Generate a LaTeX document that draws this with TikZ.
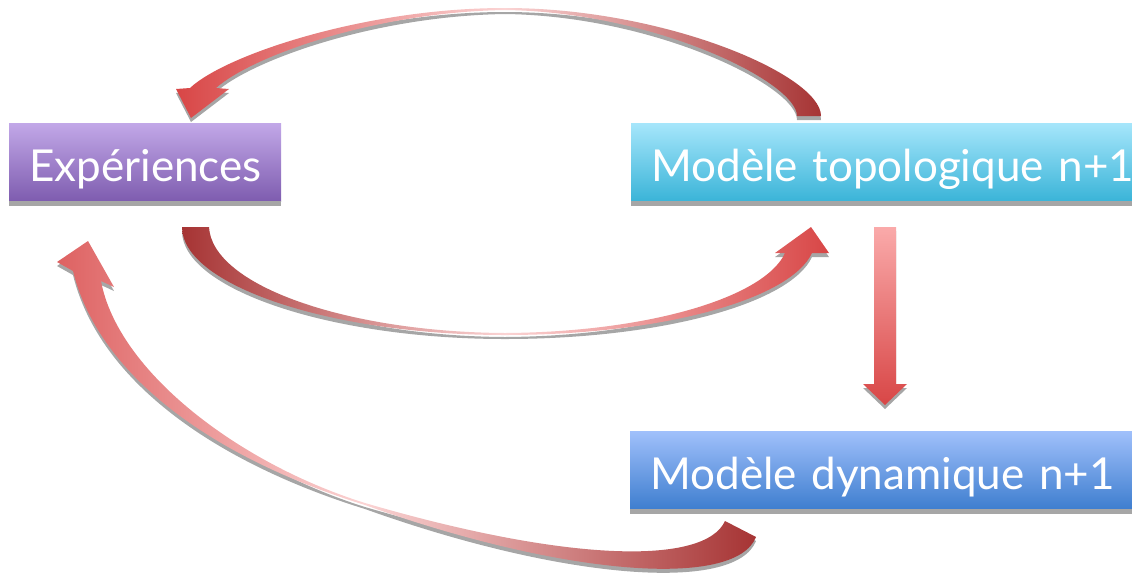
\documentclass[tikz,border=0pt]{standalone}
\usepackage{fontspec}
\setmainfont{Lato}
\usetikzlibrary{positioning}
\definecolor{expTop}{HTML}{C2A8E8}
\definecolor{expBot}{HTML}{7E5CAF}
\definecolor{topoTop}{HTML}{A6E6FB}
\definecolor{topoBot}{HTML}{3AB4D8}
\definecolor{dynTop}{HTML}{A0C0FB}
\definecolor{dynBot}{HTML}{3E7ECF}
\definecolor{shadowgrey}{HTML}{A6A6A6}
\definecolor{tailred}{HTML}{A63434}
\definecolor{midred}{HTML}{C45E5E}
\definecolor{waistpink}{HTML}{FBD4D4}
\definecolor{bodypink}{HTML}{F08C8C}
\definecolor{headred}{HTML}{D84646}
\definecolor{shaftpink}{HTML}{FAAAAA}

% arrow outlines (pixel coordinates, y downwards)
\newcommand{\pathTopTail}{(505,8) .. controls (665,8) and (821,75) .. (821,116)
  -- (797,116) .. controls (797,82) and (655,12) .. (505,10) -- cycle}
\newcommand{\pathTopHead}{(505,8) .. controls (365,8) and (225,55) .. (190,88)
  -- (176,89) -- (191,118) -- (229,89) -- (216,88)
  .. controls (252,56) and (375,12) .. (505,10) -- cycle}
\newcommand{\pathMidTail}{(182,227) .. controls (182,285) and (330,335) .. (505,335)
  -- (505,333) .. controls (345,332) and (212,285) .. (209,227) -- cycle}
\newcommand{\pathMidHead}{(505,335) .. controls (660,335) and (790,300) .. (812,253)
  -- (829,253) -- (811,227) -- (775,253) -- (785,253)
  .. controls (765,297) and (650,332) .. (505,333) -- cycle}
\newcommand{\pathLowTail}{(756,537) .. controls (735,590) and (560,575) .. (365,505)
  -- (365,503) .. controls (570,563) and (705,565) .. (725,521) -- cycle}
\newcommand{\pathLowHead}{(365,505) .. controls (220,460) and (100,380) .. (73,271)
  -- (57,262) -- (88,241) -- (114,287) -- (101,281)
  .. controls (118,372) and (240,464) .. (365,503) -- cycle}
\newcommand{\pathDown}{(874,227) -- (896,227) -- (896,384) -- (907,384)
  -- (885,405) -- (863,384) -- (874,384) -- cycle}

\begin{document}
\begin{tikzpicture}[
  x=1pt, y=-1pt,
  box/.style={anchor=north west, minimum height=78pt, inner xsep=20pt,
              inner ysep=0pt, align=left, text=white,
              font=\fontsize{44}{50}\selectfont,
              text height=38pt, text depth=0pt},
  expbox/.style={box, top color=expTop, bottom color=expBot},
  topobox/.style={box, top color=topoTop, bottom color=topoBot},
  dynbox/.style={box, top color=dynTop, bottom color=dynBot},
  boxshadow/.style={fill=shadowgrey},
  arrowshadow/.style={fill=shadowgrey, shift={(0,4)}},
]
\useasboundingbox (0,0) rectangle (1132,582);

% ---------------- Boxes ----------------
\node[expbox, text width=232pt] (exp) at (9,123) {Expériences};
\node[topobox, text width=500pt] (topo) at (631,123) {Modèle topologique n+1};
\node[dynbox, text width=500pt] (dyn) at (630,431) {Modèle dynamique n+1};

\fill[boxshadow] (exp.south west) rectangle ([yshift=-5pt]exp.south east);
\fill[boxshadow] (topo.south west) rectangle ([yshift=-5pt]topo.south east);
\fill[boxshadow] (dyn.south west) rectangle ([yshift=-5pt]dyn.south east);

% ---------------- Shadows of the arrows ----------------
\fill[arrowshadow] \pathTopTail;
\fill[arrowshadow] \pathTopHead;
\fill[arrowshadow] \pathMidTail;
\fill[arrowshadow] \pathMidHead;
\fill[arrowshadow] \pathLowTail;
\fill[arrowshadow] \pathLowHead;
\fill[arrowshadow] \pathDown;

% topo -> exp (over the top)
\shade[left color=waistpink, middle color=midred, right color=tailred] \pathTopTail;
\shade[left color=headred, middle color=bodypink, right color=waistpink] \pathTopHead;

% exp -> topo (underneath)
\shade[left color=tailred, middle color=midred, right color=waistpink] \pathMidTail;
\shade[left color=waistpink, middle color=bodypink, right color=headred] \pathMidHead;

% dyn -> exp (long way round)
\shade[left color=waistpink, middle color=midred, right color=tailred] \pathLowTail;
\shade[left color=headred!85!white, middle color=bodypink!90!headred, right color=waistpink] \pathLowHead;

% topo -> dyn
\shade[top color=shaftpink, bottom color=headred] \pathDown;

\end{tikzpicture}
\end{document}
